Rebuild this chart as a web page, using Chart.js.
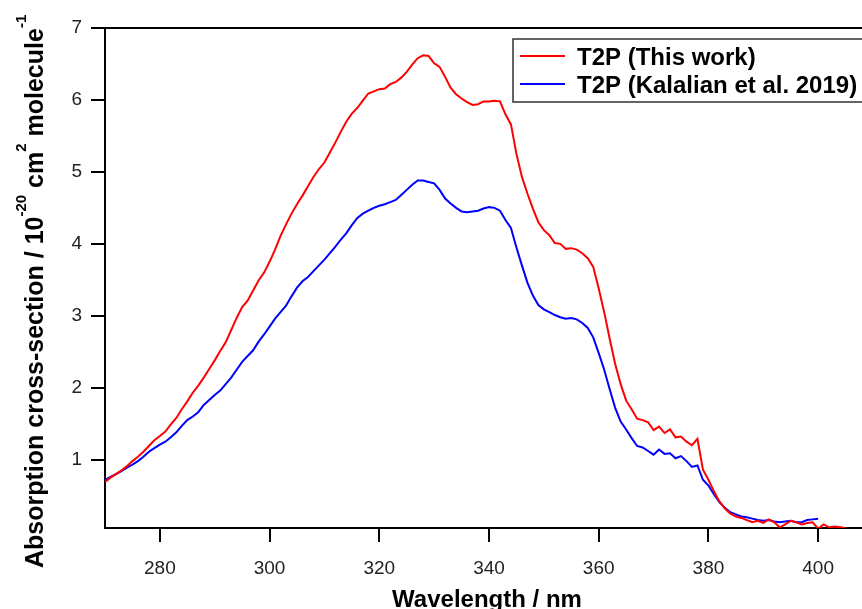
<!DOCTYPE html>
<html>
<head>
<meta charset="utf-8">
<script src="https://cdn.jsdelivr.net/npm/chart.js@4/dist/chart.umd.min.js"></script>
<style>
html,body{margin:0;padding:0;background:#fff;overflow:hidden;width:862px;height:609px;}
canvas{display:block;}
</style>
</head>
<body>
<canvas id="c" width="873" height="609"></canvas>
<script>
// ---- data ----
const wavelengthRed = [];
for (let w = 270; w <= 405; w++) wavelengthRed.push(w);
const wavelengthBlue = [];
for (let w = 270; w <= 400; w++) wavelengthBlue.push(w);

const t2pThisWork = [
  0.69,0.75,0.80,0.85,0.91,0.98,1.04,1.11,1.19,1.27,   // 270-279
  1.33,1.39,1.49,1.58,1.70,1.81,1.93,2.03,2.14,2.26,   // 280-289
  2.38,2.51,2.63,2.80,2.97,3.12,3.21,3.35,3.49,3.60,   // 290-299
  3.75,3.92,4.11,4.27,4.42,4.55,4.67,4.80,4.93,5.04,   // 300-309
  5.13,5.27,5.41,5.56,5.70,5.81,5.89,5.99,6.09,6.12,   // 310-319
  6.15,6.16,6.22,6.25,6.31,6.39,6.49,6.58,6.62,6.61,   // 320-329
  6.51,6.46,6.32,6.17,6.08,6.02,5.97,5.93,5.94,5.98,   // 330-339
  5.98,5.99,5.98,5.80,5.66,5.25,4.93,4.70,4.49,4.30,   // 340-349
  4.19,4.12,4.01,4.00,3.93,3.94,3.92,3.87,3.80,3.68,   // 350-359
  3.38,3.05,2.68,2.33,2.05,1.82,1.70,1.57,1.55,1.52,   // 360-369
  1.41,1.46,1.37,1.42,1.31,1.32,1.25,1.20,1.29,0.86,   // 370-379
  0.72,0.56,0.42,0.32,0.25,0.21,0.19,0.16,0.13,0.15,   // 380-389
  0.12,0.17,0.13,0.06,0.10,0.15,0.13,0.10,0.12,0.13,   // 390-399
  0.04,0.10,0.06,0.07,0.06,0.05                         // 400-405
];
const t2pKalalian = [
  0.72,0.76,0.80,0.84,0.89,0.93,0.98,1.04,1.11,1.16,   // 270-279
  1.21,1.25,1.31,1.38,1.47,1.55,1.60,1.66,1.76,1.83,   // 280-289
  1.90,1.96,2.05,2.14,2.25,2.36,2.44,2.52,2.64,2.74,   // 290-299
  2.85,2.96,3.05,3.14,3.27,3.39,3.48,3.54,3.62,3.70,   // 300-309
  3.78,3.87,3.96,4.06,4.15,4.26,4.36,4.42,4.46,4.50,   // 310-319
  4.53,4.55,4.58,4.61,4.68,4.75,4.82,4.88,4.88,4.86,   // 320-329
  4.84,4.75,4.63,4.56,4.50,4.45,4.44,4.45,4.46,4.49,   // 330-339
  4.51,4.50,4.46,4.33,4.22,3.95,3.70,3.46,3.28,3.15,   // 340-349
  3.09,3.05,3.01,2.98,2.96,2.97,2.95,2.90,2.83,2.70,   // 350-359
  2.48,2.25,1.98,1.72,1.53,1.42,1.30,1.19,1.17,1.12,   // 360-369
  1.07,1.14,1.08,1.09,1.02,1.05,0.98,0.90,0.92,0.72,   // 370-379
  0.64,0.52,0.41,0.33,0.27,0.24,0.21,0.20,0.18,0.16,   // 380-389
  0.15,0.16,0.14,0.13,0.14,0.15,0.13,0.13,0.16,0.17,   // 390-399
  0.18                                                  // 400
];
const seriesLabels = ['T2P (This work)', 'T2P (Kalalian et al. 2019)'];
const xTickValues = [280, 300, 320, 340, 360, 380, 400];
const yTickValues = [1, 2, 3, 4, 5, 6, 7];
const xTitle = 'Wavelength / nm';
const yTitleParts = [
  ['Absorption cross-section / 10', false],
  ['-20', true],
  [' cm', false],
  ['2', true],
  [' molecule', false],
  ['-1', true]
];

// ---- chart ----
const FONT = '"Liberation Sans", Arial, sans-serif';

const decorPlugin = {
  id: 'decor',
  afterDraw(chart) {
    const ctx = chart.ctx;
    const a = chart.chartArea;
    ctx.save();
    // top frame line
    ctx.strokeStyle = '#000';
    ctx.lineWidth = 2;
    ctx.beginPath();
    ctx.moveTo(a.left - 1, a.top);
    ctx.lineTo(a.right + 10, a.top);
    ctx.stroke();

    // legend
    const lx = 513, ly = 39, lw = 370, lh = 63;
    ctx.fillStyle = '#fff';
    ctx.fillRect(lx, ly, lw, lh);
    ctx.strokeStyle = '#333';
    ctx.lineWidth = 1.5;
    ctx.strokeRect(lx, ly, lw, lh);
    ctx.font = 'bold 24px ' + FONT;
    ctx.textBaseline = 'alphabetic';
    ctx.textAlign = 'left';
    chart.data.datasets.forEach((ds, i) => {
      const yy = 56 + i * 28;
      ctx.strokeStyle = ds.borderColor;
      ctx.lineWidth = 2;
      ctx.beginPath();
      ctx.moveTo(520, yy);
      ctx.lineTo(565, yy);
      ctx.stroke();
      ctx.fillStyle = '#000';
      ctx.fillText(ds.label, 577, yy + 9);
    });

    // x title
    ctx.fillStyle = '#000';
    ctx.font = 'bold 24px ' + FONT;
    ctx.textAlign = 'center';
    ctx.fillText(xTitle, 487, 607);

    // y title (rotated, with superscripts)
    ctx.translate(43, 568);
    ctx.rotate(-Math.PI / 2);
    ctx.textAlign = 'left';
    let px = 0;
    yTitleParts.forEach(([txt, sup]) => {
      ctx.font = (sup ? 'bold 15px ' : 'bold 25px ') + FONT;
      ctx.fillText(txt, px, sup ? -17 : 0);
      px += ctx.measureText(txt).width;
    });
    ctx.restore();
  }
};

new Chart(document.getElementById('c'), {
  type: 'line',
  data: {
    datasets: [
      {
        label: seriesLabels[0],
        data: wavelengthRed.map((w, i) => ({x: w, y: t2pThisWork[i]})),
        borderColor: 'rgb(255,0,0)',
        borderWidth: 2,
        pointRadius: 0,
        tension: 0,
        fill: false
      },
      {
        label: seriesLabels[1],
        data: wavelengthBlue.map((w, i) => ({x: w, y: t2pKalalian[i]})),
        borderColor: 'rgb(0,0,255)',
        borderWidth: 2,
        pointRadius: 0,
        tension: 0,
        fill: false
      }
    ]
  },
  options: {
    responsive: false,
    animation: false,
    devicePixelRatio: 1,
    layout: {padding: {left: 0, top: 28, right: 0, bottom: 0}},
    plugins: {legend: {display: false}, tooltip: {enabled: false}},
    scales: {
      x: {
        type: 'linear',
        min: 270,
        max: 410,
        afterFit(s) { s.height = 81; },
        afterBuildTicks(s) { s.ticks = xTickValues.map(v => ({value: v})); },
        grid: {display: true, drawOnChartArea: false, drawTicks: true, tickLength: 14, color: '#000', lineWidth: 2},
        border: {display: true, color: '#000', width: 2},
        ticks: {padding: 15, color: '#222', font: {family: FONT, size: 19}, maxRotation: 0, autoSkip: false}
      },
      y: {
        type: 'linear',
        min: 0.05,
        max: 7,
        afterFit(s) { s.width = 105; },
        afterBuildTicks(s) { s.ticks = yTickValues.map(v => ({value: v})); },
        grid: {display: true, drawOnChartArea: false, drawTicks: true, tickLength: 14, color: '#000', lineWidth: 2},
        border: {display: true, color: '#000', width: 2},
        ticks: {padding: 9, color: '#222', font: {family: FONT, size: 19}, autoSkip: false}
      }
    }
  },
  plugins: [decorPlugin]
});
</script>
</body>
</html>
